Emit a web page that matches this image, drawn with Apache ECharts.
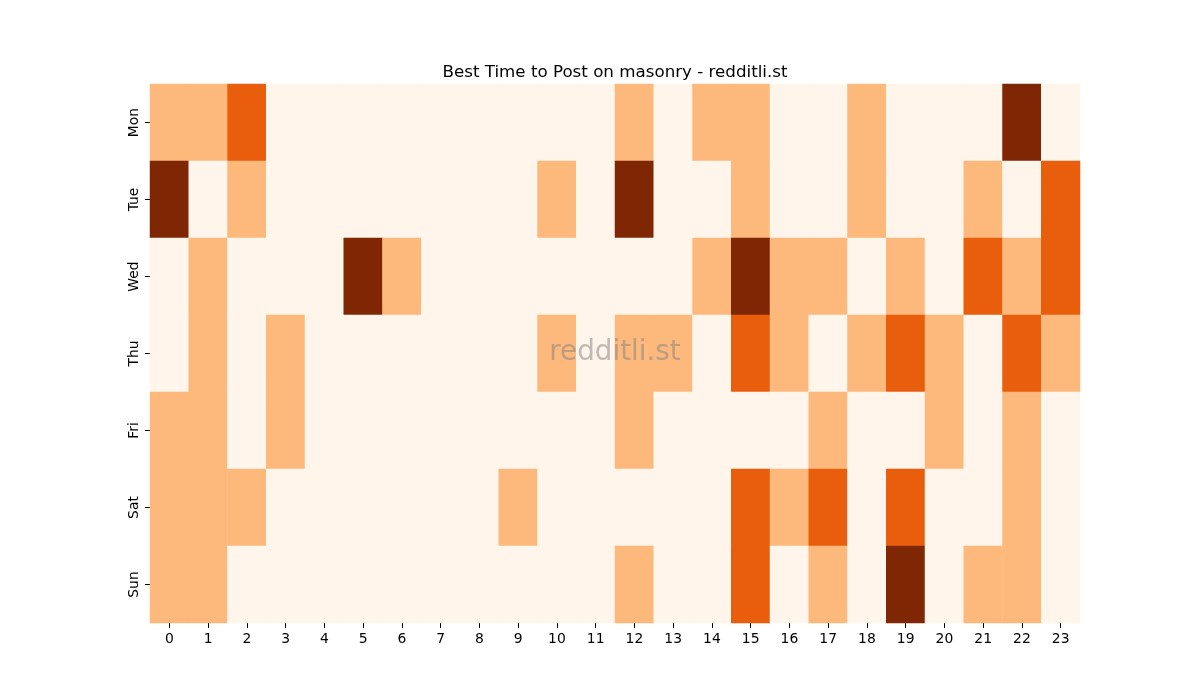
<!DOCTYPE html>
<html><head><meta charset="utf-8">
<script src="https://cdn.jsdelivr.net/npm/echarts@6/dist/echarts.min.js"></script>
<style>html,body{margin:0;padding:0;background:#fff}#c{width:1200px;height:700px}</style>
</head><body><div id="c"></div>
<script>
var hours = ["0","1","2","3","4","5","6","7","8","9","10","11","12","13","14","15","16","17","18","19","20","21","22","23"];
var days = ["Mon","Tue","Wed","Thu","Fri","Sat","Sun"];
var mon = [1,1,2,0,0,0,0,0,0,0,0,0,1,0,1,1,0,0,1,0,0,0,3,0];
var tue = [3,0,1,0,0,0,0,0,0,0,1,0,3,0,0,1,0,0,1,0,0,1,0,2];
var wed = [0,1,0,0,0,3,1,0,0,0,0,0,0,0,1,3,1,1,0,1,0,2,1,2];
var thu = [0,1,0,1,0,0,0,0,0,0,1,0,1,1,0,2,1,0,1,2,1,0,2,1];
var fri = [1,1,0,1,0,0,0,0,0,0,0,0,1,0,0,0,0,1,0,0,1,0,1,0];
var sat = [1,1,1,0,0,0,0,0,0,1,0,0,0,0,0,2,1,2,0,2,0,0,1,0];
var sun = [1,1,0,0,0,0,0,0,0,0,0,0,1,0,0,2,0,1,0,3,0,1,1,0];
var rows = [mon,tue,wed,thu,fri,sat,sun];
var levelColors = ["#fff5eb","#fdb87c","#e95e0d","#7f2704"];

var data = [];
rows.forEach(function(r, d){ r.forEach(function(v, h){ data.push([h, d, v]); }); });

var chart = echarts.init(document.getElementById('c'));
chart.setOption({
  animation: false,
  backgroundColor: '#ffffff',
  title: {
    text: 'Best Time to Post on masonry - redditli.st',
    left: 610, top: 59, textAlign: 'center',
    textStyle: {fontFamily: 'DejaVu Sans', fontSize: 16.7, fontWeight: 'normal', color: '#000'}
  },
  grid: {left: 150, right: 120, top: 84, bottom: 77},
  xAxis: {
    type: 'category', data: hours,
    axisLine: {show: false},
    axisTick: {show: true, alignWithLabel: true, length: 5, lineStyle: {color: '#000', width: 1}},
    axisLabel: {fontFamily: 'DejaVu Sans', fontSize: 13.9, color: '#000', margin: 9},
    splitLine: {show: false}
  },
  yAxis: {
    type: 'category', data: days, inverse: true,
    axisLine: {show: false},
    axisTick: {show: true, alignWithLabel: true, length: 5, lineStyle: {color: '#000', width: 1}},
    axisLabel: {fontFamily: 'DejaVu Sans', fontSize: 13.9, color: '#000', rotate: 90, margin: 9},
    splitLine: {show: false}
  },
  visualMap: {
    show: false, type: 'piecewise', dimension: 2,
    pieces: [
      {value: 0, color: levelColors[0]},
      {value: 1, color: levelColors[1]},
      {value: 2, color: levelColors[2]},
      {value: 3, color: levelColors[3]}
    ]
  },
  series: [{
    type: 'heatmap', data: data,
    itemStyle: {borderWidth: 0},
    emphasis: {disabled: true}
  }],
  graphic: [{
    type: 'text', x: 615, y: 353,
    style: {
      text: 'redditli.st',
      font: '27.8px "DejaVu Sans"', fill: 'rgba(128,128,128,0.5)',
      textAlign: 'center', textVerticalAlign: 'middle'
    },
    z: 100
  }]
});
</script></body></html>
